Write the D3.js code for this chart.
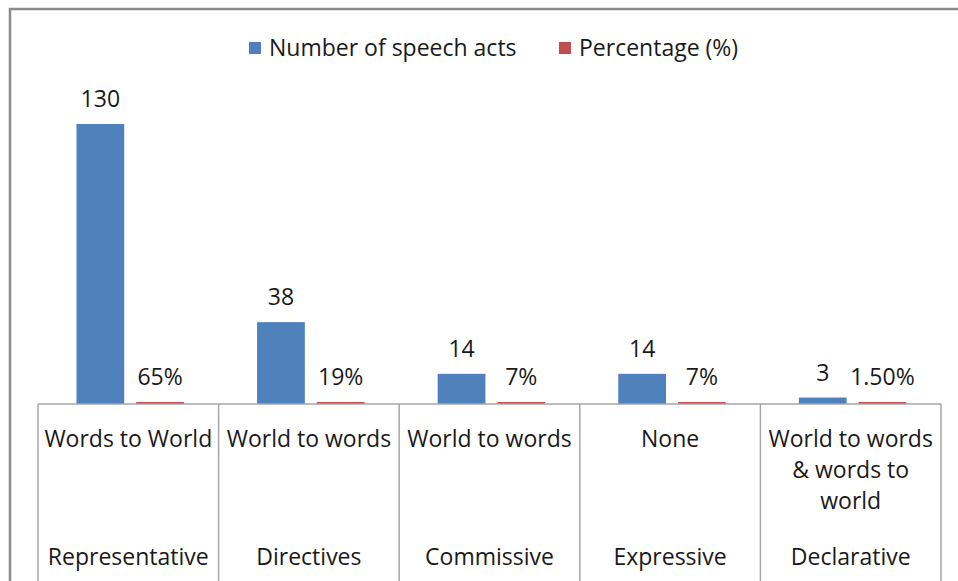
<!DOCTYPE html>
<html>
<head>
<meta charset="utf-8">
<script src="https://cdn.jsdelivr.net/npm/d3@7"></script>
<style>
  body { margin: 0; background: #fff; }
  text { font-family: "Open Sans", sans-serif; fill: #1a1a1a; }
</style>
</head>
<body>
<div id="chart-area"></div>
<script>
// data
var speechTypes = ["Representative", "Directives", "Commissive", "Expressive", "Declarative"];
var directions = ["Words to World", "World to words", "World to words", "None", "World to words\n& words to\nworld"];
var counts = [130, 38, 14, 14, 3];
var percents = [0.65, 0.19, 0.07, 0.07, 0.015];
var percentLabels = ["65%", "19%", "7%", "7%", "1.50%"];
var seriesNames = ["Number of speech acts", "Percentage (%)"];
var seriesColors = ["#4F81BD", "#C0504D"];

var width = 958, height = 581;
var plot = { left: 38, right: 941, top: 124, bottom: 404 };
var fontSize = 23;

var svg = d3.select("#chart-area")
    .append("svg")
        .attr("width", width)
        .attr("height", height);

// outer frame (left + top edges visible)
svg.append("path")
    .attr("d", "M10," + height + " V9 H" + width)
    .attr("fill", "none")
    .attr("stroke", "#8c8c8c")
    .attr("stroke-width", 2.5);

// scales
var x = d3.scaleBand()
    .domain(speechTypes)
    .range([plot.left, plot.right])
    .paddingInner(0)
    .paddingOuter(0);

var cw = x.bandwidth();
var xSeries = d3.scaleBand()
    .domain(seriesNames)
    .range([cw * 0.213, cw * 0.808])
    .paddingInner(0.2);

var y = d3.scaleLinear()
    .domain([0, 130])
    .range([plot.bottom, plot.top]);

// bars
var rows = speechTypes.map(function(t, i) {
    return [
        { type: t, series: seriesNames[0], value: counts[i], label: String(counts[i]) },
        { type: t, series: seriesNames[1], value: percents[i], label: percentLabels[i] }
    ];
});

var groups = svg.selectAll("g.group")
    .data(rows)
    .enter().append("g")
        .attr("class", "group")
        .attr("transform", function(d) { return "translate(" + x(d[0].type) + ",0)"; });

// percentage bars are tiny on this scale; give them a thin visible edge
function barTop(d) { return Math.min(y(d.value), y(0) - 2); }

groups.selectAll("rect")
    .data(function(d) { return d; })
    .enter().append("rect")
        .attr("x", function(d) { return xSeries(d.series); })
        .attr("y", barTop)
        .attr("width", xSeries.bandwidth())
        .attr("height", function(d) { return y(0) - barTop(d); })
        .attr("fill", function(d) { return seriesColors[seriesNames.indexOf(d.series)]; });

groups.selectAll("text.val")
    .data(function(d) { return d; })
    .enter().append("text")
        .attr("class", "val")
        .attr("x", function(d) { return xSeries(d.series) + xSeries.bandwidth() / 2; })
        .attr("y", function(d) { return barTop(d) - 17; })
        .attr("text-anchor", "middle")
        .attr("font-size", fontSize + "px")
        .text(function(d) { return d.label; });

// category axis: baseline + dividers
svg.append("line")
    .attr("x1", plot.left).attr("x2", plot.right)
    .attr("y1", plot.bottom).attr("y2", plot.bottom)
    .attr("stroke", "#a6a6a6")
    .attr("stroke-width", 1.5);

var dividers = speechTypes.map(function(t) { return x(t); }).concat([plot.right]);
svg.selectAll("line.div")
    .data(dividers)
    .enter().append("line")
        .attr("class", "div")
        .attr("x1", function(d) { return d; }).attr("x2", function(d) { return d; })
        .attr("y1", plot.bottom).attr("y2", height)
        .attr("stroke", "#a6a6a6")
        .attr("stroke-width", 1.5);

// first row: direction of fit
var dirText = svg.selectAll("text.dir")
    .data(directions)
    .enter().append("text")
        .attr("class", "dir")
        .attr("text-anchor", "middle")
        .attr("font-size", fontSize + "px")
        .attr("x", function(d, i) { return x(speechTypes[i]) + cw / 2; })
        .attr("y", 447);

dirText.each(function(d, i) {
    var el = d3.select(this);
    d.split("\n").forEach(function(line, j) {
        el.append("tspan")
            .attr("x", x(speechTypes[i]) + cw / 2)
            .attr("y", 447 + j * 31)
            .text(line);
    });
});

// second row: speech act type
svg.selectAll("text.type")
    .data(speechTypes)
    .enter().append("text")
        .attr("class", "type")
        .attr("text-anchor", "middle")
        .attr("font-size", fontSize + "px")
        .attr("x", function(d) { return x(d) + cw / 2; })
        .attr("y", 565)
        .text(function(d) { return d; });

// legend
var legendX = [249, 559];
var legend = svg.selectAll("g.legend")
    .data(seriesNames)
    .enter().append("g")
        .attr("class", "legend")
        .attr("transform", function(d, i) { return "translate(" + legendX[i] + ",42)"; });

legend.append("rect")
    .attr("width", 12)
    .attr("height", 12)
    .attr("fill", function(d, i) { return seriesColors[i]; });

legend.append("text")
    .attr("x", 20)
    .attr("y", 14)
    .attr("font-size", fontSize + "px")
    .text(function(d) { return d; });
</script>
</body>
</html>
